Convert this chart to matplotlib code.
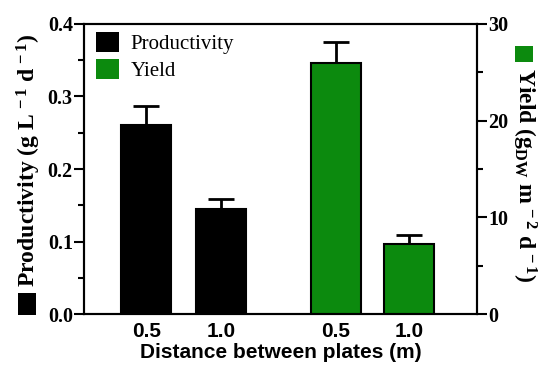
'''
bar chart: productivity and yield against distance between plates
'''

import matplotlib
matplotlib.use('Agg')
import matplotlib.pyplot as plt
from matplotlib.patches import Rectangle
from matplotlib.ticker import MultipleLocator

# data
distances = ['0.5', '1.0']
productivity = [0.261, 0.145]
productivity_err = [0.026, 0.014]
yield_vals = [26.0, 7.2]
yield_err = [2.1, 1.0]
tick_labels = distances + distances

plt.rcParams['mathtext.fontset'] = 'custom'
plt.rcParams['mathtext.rm'] = 'Liberation Serif:bold'
plt.rcParams['mathtext.bf'] = 'Liberation Serif:bold'
plt.rcParams['mathtext.it'] = 'Liberation Serif:bold'

green = '#0c8a0e'
pos_prod = [0, 1]
pos_yield = [2.53, 3.5]
width = 0.67

fig = plt.figure(figsize=(5.38, 3.69), dpi=100)
ax = fig.add_axes([0.156, 0.149, 0.731, 0.786])
ax2 = ax.twinx()

ax.bar(pos_prod, productivity, width, color='black', edgecolor='black', linewidth=1.5, label='Productivity', zorder=2)
ax.errorbar(pos_prod, productivity, yerr=[[0, 0], productivity_err], fmt='none', ecolor='black',
            elinewidth=2, capsize=9.5, capthick=2, zorder=1)
ax2.bar(pos_yield, yield_vals, width, color=green, edgecolor='black', linewidth=1.5, label='Yield', zorder=2)
ax2.errorbar(pos_yield, yield_vals, yerr=[[0, 0], yield_err], fmt='none', ecolor='black',
             elinewidth=2, capsize=9.5, capthick=2, zorder=1)

ax.set_xlim(-0.83, 4.41)
ax.set_ylim(0, 0.4)
ax2.set_ylim(0, 30)
ax.set_xticks(pos_prod + pos_yield)
ax.set_xticklabels(tick_labels, fontfamily='Liberation Sans', fontweight='bold', fontsize=15)
ax.tick_params(axis='x', length=0, pad=6)

ax.yaxis.set_major_locator(MultipleLocator(0.1))
ax.yaxis.set_minor_locator(MultipleLocator(0.05))
ax.set_yticks([0, 0.1, 0.2, 0.3, 0.4])
ax.set_yticklabels(['0.0', '0.1', '0.2', '0.3', '0.4'])
ax2.yaxis.set_major_locator(MultipleLocator(10))
ax2.yaxis.set_minor_locator(MultipleLocator(5))
for a in (ax, ax2):
    a.tick_params(axis='y', which='major', length=7, width=1.5, pad=1)
    a.tick_params(axis='y', which='minor', length=4, width=1.5)
    for lab in a.get_yticklabels():
        lab.set_fontfamily('Liberation Serif')
        lab.set_fontweight('bold')
        lab.set_fontsize(14.5)
    for s in a.spines.values():
        s.set_linewidth(1.5)

ax.set_xlabel('Distance between plates (m)', fontfamily='Liberation Sans', fontweight='bold', fontsize=15, labelpad=1)

fig.text(0.054, 0.565, r'Productivity (g L$^{\,-1}$ d$^{\,-1}$)', rotation=90, ha='center', va='center',
         fontfamily='Liberation Serif', fontweight='bold', fontsize=17)
fig.text(0.974, 0.526, r'Yield (g$_{\mathregular{DW}}$ m$^{\,-2}$ d$^{\,-1}$)', rotation=-90, ha='center', va='center',
         fontfamily='Liberation Serif', fontweight='bold', fontsize=17)
fig.add_artist(Rectangle((18 / 538, (369 - 315) / 369), 18 / 538, 22 / 369, transform=fig.transFigure,
                         facecolor='black', edgecolor='none'))
fig.add_artist(Rectangle((515 / 538, (369 - 62) / 369), 18 / 538, 16 / 369, transform=fig.transFigure,
                         facecolor=green, edgecolor='none'))

h1, l1 = ax.get_legend_handles_labels()
h2, l2 = ax2.get_legend_handles_labels()
leg = ax2.legend(h1 + h2, l1 + l2, loc='upper left', frameon=False, handlelength=1.1, handleheight=1.1,
                 handletextpad=0.55, labelspacing=0.2, borderaxespad=0.0, bbox_to_anchor=(0.01, 1.0),
                 prop={'family': 'Liberation Serif', 'size': 15})
for p in leg.get_patches():
    p.set_linewidth(0)

fig.savefig('out.png', dpi=100)
